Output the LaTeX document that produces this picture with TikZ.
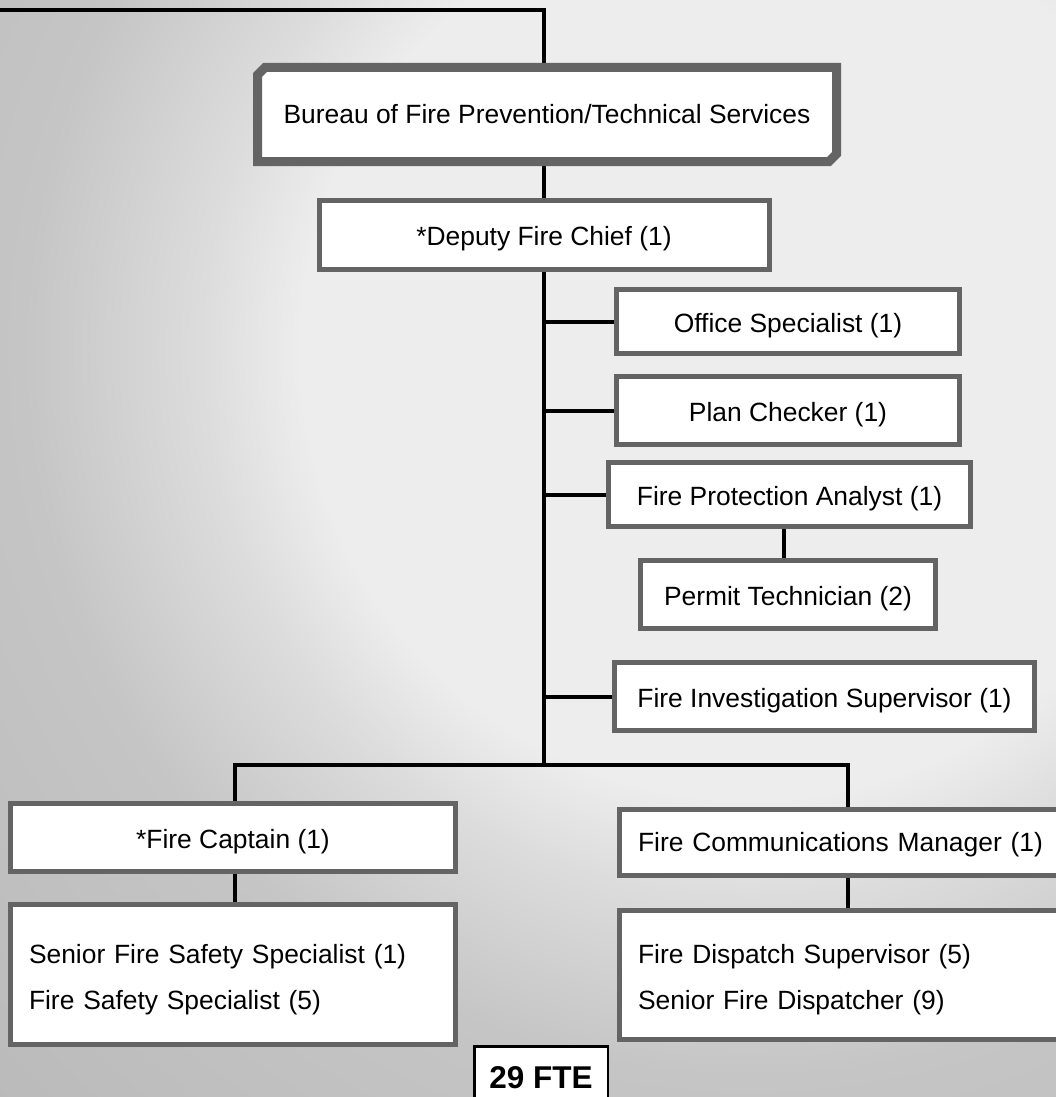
\documentclass[tikz,border=0pt]{standalone}
\usepackage{fontspec}
\setmainfont{Liberation Sans}
\usetikzlibrary{shapes.misc}

\definecolor{boxline}{HTML}{646464}
\definecolor{bgA}{HTML}{EDEDED}
\definecolor{bgB}{HTML}{DCDCDC}
\definecolor{bgC}{HTML}{C5C5C5}
\definecolor{bgD}{HTML}{B9B9B9}

% soft grey glow behind the chart (25bp maps onto the circle radius)
\pgfdeclareradialshading{bgglow}{\pgfpoint{0bp}{0bp}}{%
  color(0bp)=(bgA); color(10.2bp)=(bgA); color(12.5bp)=(bgB);
  color(16.5bp)=(bgC); color(25bp)=(bgD); color(50bp)=(bgD)}

\pgfdeclarelayer{backdrop}
\pgfdeclarelayer{wires}
\pgfsetlayers{backdrop,wires,main}

\begin{document}
\begin{tikzpicture}[x=1pt,y=-1pt,
  basebox/.style={draw=boxline, line width=5pt, fill=white, inner sep=0pt,
    font=\fontsize{26.4}{46}\selectfont},
  box/.style={basebox, align=center, text height=27pt, text depth=5.3pt},
  listbox/.style={basebox, align=left, inner xsep=18.5pt},
  link/.style={draw=black, line width=4pt},
  total/.style={draw=black, line width=2.5pt, fill=white, inner sep=0pt,
    font=\fontsize{31.5}{36}\selectfont\bfseries},
]
\useasboundingbox (0,0) rectangle (1056,1097);
\clip (0,0) rectangle (1056,1097);

% boxes
\node[basebox, align=center, line width=9pt, shape=chamfered rectangle,
  chamfered rectangle corners={north west,south east},
  chamfered rectangle xsep=4pt,
  minimum width=579, minimum height=94] (bureau) at (547,114.5)
  {Bureau of Fire Prevention/Technical Services};
\node[box, minimum width=450, minimum height=69] (deputy) at (544,235)
  {*Deputy Fire Chief (1)};
\node[box, minimum width=343, minimum height=64] (office) at (788,321.5)
  {Office Specialist (1)};
\node[box, minimum width=343, minimum height=68] (plan) at (788,410.5)
  {Plan Checker (1)};
\node[box, minimum width=362, minimum height=64] (fpa) at (789.5,494.5)
  {Fire Protection Analyst (1)};
\node[box, minimum width=295, minimum height=68] (permit) at (788,594.5)
  {Permit Technician (2)};
\node[box, minimum width=420, minimum height=68] (fis) at (824.5,696.5)
  {Fire Investigation Supervisor (1)};
\node[box, minimum width=445, minimum height=68] (captain) at (233,837.5)
  {*Fire Captain (1)};
\node[listbox, minimum width=445, minimum height=140, text width=408] (safety) at (233,974.5)
  {\rule{0pt}{29pt}Senior Fire Safety Specialist (1)\\Fire Safety Specialist (5)};
\node[listbox, minimum width=448, minimum height=66, text width=411] (fcm) at (843.5,842.5)
  {\rule{0pt}{23pt}Fire Communications Manager (1)};
\node[listbox, minimum width=448, minimum height=129, text width=411] (dispatch) at (843.5,975)
  {\rule{0pt}{29pt}Fire Dispatch Supervisor (5)\\Senior Fire Dispatcher (9)};
\node[total, minimum width=133.5, minimum height=62.5] (fte) at (541,1077.5) {29 FTE};

% junction points of the reporting lines
\coordinate (topleft) at (-5,10);
\coordinate (topjoin) at (544,10);
\coordinate (split) at (544,765);
\coordinate (lsplit) at (235,765);
\coordinate (rsplit) at (847.5,765);
\coordinate (ptab) at (784,545);

\begin{pgfonlayer}{wires}
  \draw[link] (topleft) -- (topjoin) -- (topjoin |- bureau.north);
  \draw[link] (bureau.south -| topjoin) -- (deputy.north);
  \draw[link] (deputy.south) -- (split);
  \foreach \n in {office,plan,fpa,fis}
    \draw[link] (\n.west -| split) -- (\n.west);
  \draw[link] (fpa.south -| ptab) -- (permit.north -| ptab);
  \draw[link] (lsplit |- captain.north) -- (lsplit) -- (rsplit) -- (rsplit |- fcm.north);
  \draw[link] (captain.south -| lsplit) -- (safety.north -| lsplit);
  \draw[link] (fcm.south -| rsplit) -- (dispatch.north -| rsplit);
\end{pgfonlayer}

\begin{pgfonlayer}{backdrop}
  \shade[shading=bgglow] (750,350) circle (1100);
\end{pgfonlayer}
\end{tikzpicture}
\end{document}
